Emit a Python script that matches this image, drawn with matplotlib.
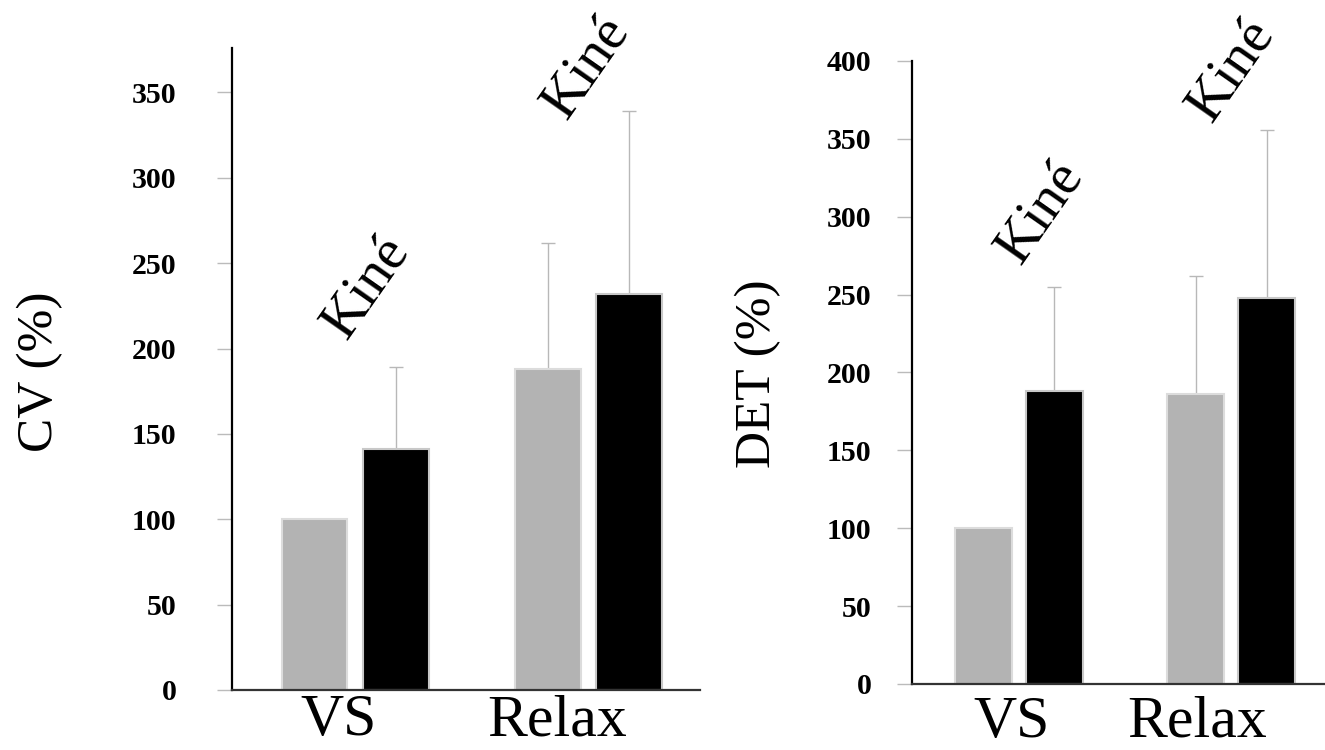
import numpy as np
import matplotlib
matplotlib.use('Agg')
import matplotlib.pyplot as plt
import matplotlib.transforms as mtransforms

plt.rcParams['font.family'] = ['Liberation Serif', 'DejaVu Serif']

groups = ['VS', 'Relax']
cv_gray = [100, 188]
cv_black = [141, 232]
cv_gray_err = [0, 74]
cv_black_err = [48, 107]
cv_ticks = [0, 50, 100, 150, 200, 250, 300, 350]

det_gray = [100, 186]
det_black = [188, 248]
det_gray_err = [0, 76]
det_black_err = [67, 108]
det_ticks = [0, 50, 100, 150, 200, 250, 300, 350, 400]

GRAY = '#b3b3b3'
ERRC = '#b8b8b8'


def drawPanel(ax, gray, black, gray_err, black_err, ticks, ylim, xlim, off, w,
              lab_x, lab_y, kine_pos, tick_pad):
    x = np.arange(len(groups))
    ax.bar(x - off, gray, w, color=GRAY, edgecolor='#dcdcdc', linewidth=1.5, zorder=2)
    ax.bar(x + off, black, w, color='black', edgecolor='#c8c8c8', linewidth=1.5, zorder=2)
    # only upward error bars, none on the reference bar
    g_err = np.array(gray_err, dtype=float)
    mask = g_err > 0
    ax.errorbar((x - off)[mask], np.array(gray)[mask], yerr=[np.zeros(mask.sum()), g_err[mask]],
                fmt='none', ecolor=ERRC, elinewidth=1, capsize=5, capthick=1, zorder=1)
    ax.errorbar(x + off, black, yerr=[np.zeros(len(black)), black_err],
                fmt='none', ecolor=ERRC, elinewidth=1, capsize=5, capthick=1, zorder=1)

    ax.set_xlim(*xlim)
    ax.set_ylim(*ylim)
    ax.set_yticks(ticks)
    ax.set_yticklabels([str(t) for t in ticks], fontsize=21.5, fontweight='bold')
    ax.tick_params(axis='y', length=11, color='#bbbbbb', width=1, pad=tick_pad)
    ax.set_xticks([])
    for s in ['top', 'right']:
        ax.spines[s].set_visible(False)
    ax.spines['left'].set_linewidth(1.6)
    ax.spines['bottom'].set_linewidth(1.6)
    ax.spines['bottom'].set_color('#333333')

    trans = mtransforms.blended_transform_factory(ax.transData, ax.transAxes)
    for gx, g in zip(x + np.array(lab_x), groups):
        ax.text(gx, lab_y, g, transform=trans, ha='center', va='baseline',
                fontsize=43, clip_on=False)

    for (kx, ky) in kine_pos:
        ax.text(kx, ky, 'Kiné', rotation=55, rotation_mode='anchor', ha='center',
                va='center', fontsize=41, clip_on=False)


fig = plt.figure(figsize=(13.25, 7.5), dpi=100)

ax1 = fig.add_axes([0.1751, 0.08, 0.3532, 0.856])
drawPanel(ax1, cv_gray, cv_black, cv_gray_err, cv_black_err, cv_ticks,
          (0, 376), (-0.528, 1.48), 0.174, 0.283,
          [-0.069, -0.133], -0.0701, [(0.05, 236), (0.99, 365)], 29)

ax2 = fig.add_axes([0.6883, 0.088, 0.3117, 0.8307])
drawPanel(ax2, det_gray, det_black, det_gray_err, det_black_err, det_ticks,
          (0, 400), (-0.502, 1.44), 0.167, 0.268,
          [-0.036, -0.161], -0.085, [(0.1, 303), (1.0, 394)], 18)

fig.text(40 / 1325, 1 - 372 / 750, 'CV (%)', rotation=90, ha='center', va='center', fontsize=37)
fig.text(758 / 1325, 1 - 374 / 750, 'DET (%)', rotation=90, ha='center', va='center', fontsize=37)

fig.savefig('out.png', dpi=100)
